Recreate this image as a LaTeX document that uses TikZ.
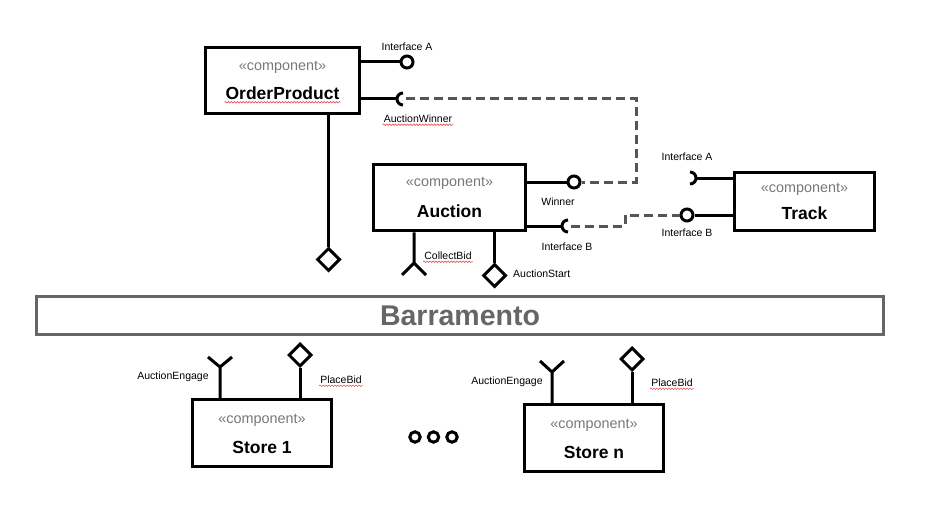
\documentclass[tikz,border=0pt]{standalone}
\usepackage{fontspec}
\setmainfont{Liberation Sans}
\usetikzlibrary{shapes.geometric,decorations.pathmorphing}

\definecolor{compgray}{RGB}{120,120,120}
\definecolor{busgray}{RGB}{102,102,102}
\definecolor{dashgray}{RGB}{85,85,85}
\definecolor{spellred}{RGB}{230,90,90}

\tikzset{
  comp/.style={draw, line width=3, fill=white, inner sep=0},
  stereo/.style={font=\fontsize{14.4}{16}\selectfont, text=compgray, inner sep=0},
  cname/.style={font=\bfseries\fontsize{17.5}{20}\selectfont, inner sep=1},
  lbl/.style={font=\fontsize{10.5}{12}\selectfont, inner sep=1},
  conn/.style={line width=3},
  dashln/.style={line width=3, dashgray, dash pattern=on 9 off 5},
  ball/.style={circle, draw, line width=3, fill=white, minimum size=12, inner sep=0},
  dmd/.style={diamond, draw, line width=3, fill=white, minimum size=23, inner sep=0},
  wavy/.style={spellred, line width=0.6, decorate, decoration={snake, amplitude=0.8, segment length=3}}
}

\begin{document}
\begin{tikzpicture}[x=1pt, y=-1pt]
	\useasboundingbox (0,0) rectangle (928,532);

	% components
	\node[comp, minimum width=154, minimum height=66] (order) at (282.5,80.5) {};
	\node[stereo] at (282.5,67) {«component»};
	\node[cname] (nOrder) at (282.5,93) {OrderProduct};

	\node[comp, minimum width=152.5, minimum height=66.5] (auction) at (449.5,197.5) {};
	\node[stereo] at (449.5,183) {«component»};
	\node[cname] at (449.5,211) {Auction};

	\node[comp, minimum width=140.5, minimum height=58.5] (track) at (804.5,201.5) {};
	\node[stereo] at (804.5,189) {«component»};
	\node[cname] at (804.5,213) {Track};

	\node[comp, minimum width=139.5, minimum height=67.5] (store1) at (262,433) {};
	\node[stereo] at (262,420) {«component»};
	\node[cname] at (262,447) {Store 1};

	\node[comp, minimum width=139.5, minimum height=67.5] (storen) at (594,438) {};
	\node[stereo] at (594,425) {«component»};
	\node[cname] at (594,452) {Store n};

	% bus
	\node[draw=busgray, line width=3, minimum width=847, minimum height=38, inner sep=0,
	      text=busgray, font=\bfseries\fontsize{28.5}{30}\selectfont] (bus) at (460,315.5) {Barramento};

	% OrderProduct interfaces
	\node[ball] (oA) at (407,62) {};
	\draw[conn] (order.east |- oA) -- (oA);
	\coordinate (aw) at (397,99);
	\draw[conn] (order.east |- aw) -- (aw);
	\draw[conn] ([shift={(6,6)}]aw) arc[start angle=90, end angle=270, radius=6];
	\node[dmd] (dOrder) at (328.5,259.5) {};
	\draw[conn] (order.south -| dOrder) -- (dOrder);

	% Auction interfaces
	\node[ball] (wB) at (574,182) {};
	\draw[conn] (auction.east |- wB) -- (wB);
	\coordinate (ib) at (562,226);
	\draw[conn] (auction.east |- ib) -- (ib);
	\draw[conn] ([shift={(6,6)}]ib) arc[start angle=90, end angle=270, radius=6];
	\coordinate (fCollect) at (414,263);
	\draw[conn] (auction.south -| fCollect) -- (fCollect) -- ++(-12,12) (fCollect) -- ++(12,12);
	\node[dmd] (dStart) at (494.5,275.5) {};
	\draw[conn] (auction.south -| dStart) -- (dStart);

	% Track interfaces
	\coordinate (ta) at (696,178);
	\draw[conn] (track.west |- ta) -- (ta);
	\draw[conn] ([shift={(-6,-6)}]ta) arc[start angle=-90, end angle=90, radius=6];
	\node[ball] (tB) at (687,215) {};
	\draw[conn] (track.west |- tB) -- (tB);

	% dependencies
	\coordinate (turnA) at (636,182);
	\draw[dashln] ([xshift=9pt]aw) -| (turnA) -- (wB);
	\coordinate (turnB) at (625,215);
	\draw[dashln] ([xshift=9pt]ib) -| (turnB) -- (tB);

	% Store interfaces
	\coordinate (fEngage1) at (220,367);
	\draw[conn] (store1.north -| fEngage1) -- (fEngage1) -- ++(-12,-10) (fEngage1) -- ++(12,-10);
	\node[dmd] (dBid1) at (300,355) {};
	\draw[conn] (store1.north -| dBid1) -- (dBid1);

	\coordinate (fEngagen) at (552,372);
	\draw[conn] (storen.north -| fEngagen) -- (fEngagen) -- ++(-12,-11) (fEngagen) -- ++(12,-11);
	\node[dmd] (dBidn) at (632,359) {};
	\draw[conn] (storen.north -| dBidn) -- (dBidn);

	\foreach \x in {415,433.5,452}
		\draw[line width=3] (\x,437) circle [radius=5.2];

	% labels
	\node[lbl] (lIntA) at (407,47) {Interface A};
	\node[lbl] (lWinner) at (418,119) {AuctionWinner};
	\node[lbl] at (558,202) {Winner};
	\node[lbl] at (567,247) {Interface B};
	\node[lbl] at (687,157) {Interface A};
	\node[lbl] at (687,233) {Interface B};
	\node[lbl] (lCollect) at (448,256) {CollectBid};
	\node[lbl, anchor=west] at (512,274) {AuctionStart};
	\node[lbl] at (173,377) {AuctionEngage};
	\node[lbl] (lBid1) at (341,380) {PlaceBid};
	\node[lbl] at (507,382) {AuctionEngage};
	\node[lbl] (lBidn) at (672,383) {PlaceBid};

	% spelling marks
	\draw[wavy] ([yshift=-3pt]nOrder.base west) -- ([yshift=-3pt]nOrder.base east);
	\foreach \n in {lWinner,lCollect,lBid1,lBidn}
		\draw[wavy] ([yshift=-2pt]\n.base west) -- ([yshift=-2pt]\n.base east);
\end{tikzpicture}
\end{document}
